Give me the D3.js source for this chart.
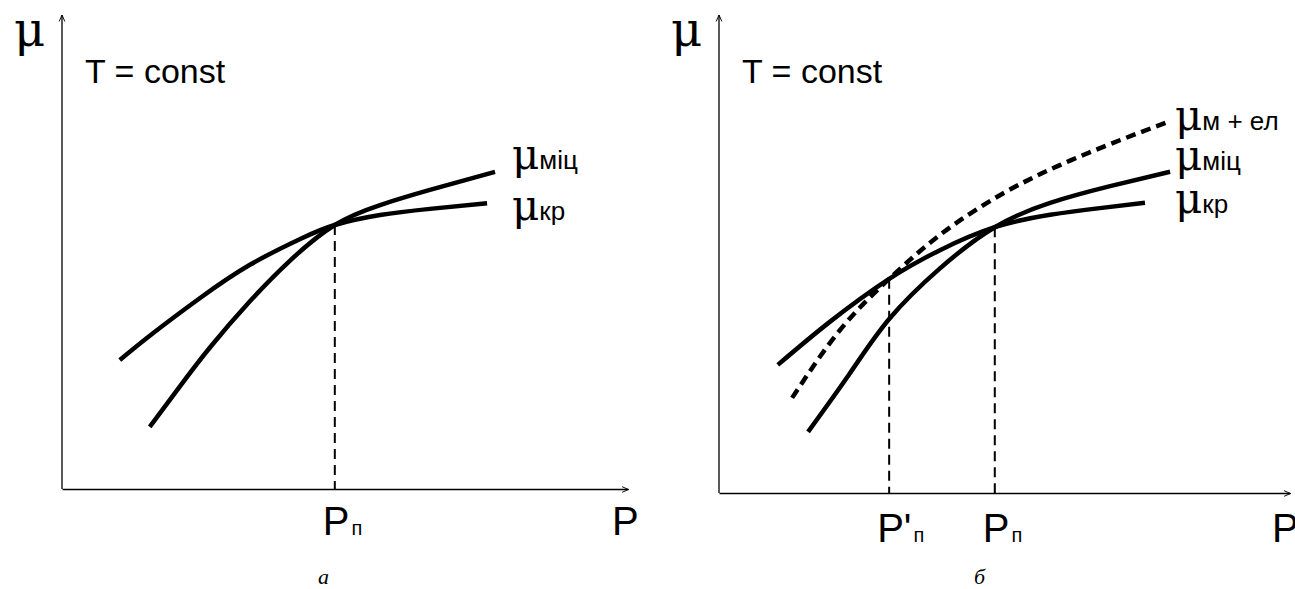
<!DOCTYPE html>
<html><head><meta charset="utf-8">
<script src="https://cdn.jsdelivr.net/npm/d3@7"></script>
<style>body{margin:0;background:#fff}svg{display:block}</style>
</head><body>
<svg id="c" width="1295" height="589"></svg>
<script>
// ---- data (domain units 0..100) ----
const krA_x = [10.2, 15.9, 24.4, 33.2, 42.0, 48.2, 56.2, 65.0, 75.1];
const krA_y = [27.2, 32.7, 40.3, 47.3, 52.7, 55.7, 57.8, 59.1, 60.3];
const micA_x = [15.5, 20.8, 26.1, 33.2, 40.3, 48.2, 56.2, 65.0, 76.5];
const micA_y = [13.1, 21.6, 29.8, 39.6, 48.2, 55.7, 59.9, 63.1, 66.9];
const crossA = [48.2];           // P_п
const crossA_mu = [55.7];

const krB_x = [10.3, 19.4, 29.8, 38.7, 48.3, 58.0, 66.7, 74.6];
const krB_y = [26.8, 35.8, 44.8, 50.8, 55.6, 58.2, 59.6, 60.7];
const micB_x = [15.6, 22.9, 29.8, 38.7, 48.3, 58.0, 68.5, 79.0];
const micB_y = [12.8, 25.0, 36.4, 47.0, 55.6, 60.7, 64.2, 67.2];
const melB_x = [12.8, 21.2, 29.8, 38.7, 49.2, 59.7, 70.2, 78.6];
const melB_y = [19.9, 34.1, 44.8, 54.0, 62.3, 68.6, 73.8, 77.6];
const crossB = [29.8, 48.3];     // P'_п, P_п
const crossB_mu = [44.8, 55.6];

const tickLabelsA = [["P", "п"]];
const tickLabelsB = [["P'", "п"], ["P", "п"]];
const seriesLabelsA = ["міц", "кр"];
const seriesLabelsB = ["м + ел", "міц", "кр"];
const captions = ["а", "б"];

const svg = d3.select("#c");
const defs = svg.append("defs");
defs.append("marker").attr("id","arr").attr("viewBox","0 0 10 10").attr("refX",9).attr("refY",5)
  .attr("markerWidth",8).attr("markerHeight",8).attr("markerUnits","userSpaceOnUse").attr("orient","auto")
  .append("path").attr("d","M1,1.5 L9,5 L1,8.5").attr("fill","none").attr("stroke","#000").attr("stroke-width",1.2);

const sans = "'Liberation Sans', Arial, sans-serif";
const serif = "'Liberation Serif', 'Times New Roman', serif";
const muFont = "'DejaVu Serif', serif";

function panel(opt) {
  const x = d3.scaleLinear().domain([0,100]).range(opt.xr);
  const y = d3.scaleLinear().domain([0,100]).range(opt.yr);
  const g = svg.append("g");
  const xa = g.append("g").attr("transform",`translate(0,${opt.yr[0]})`)
    .call(d3.axisBottom(x).tickValues([]).tickSizeOuter(0));
  xa.select(".domain").attr("stroke","#000").attr("stroke-width",1.3).attr("marker-end","url(#arr)");
  const ya = g.append("g").attr("transform",`translate(${opt.xr[0]},0)`)
    .call(d3.axisLeft(y).tickValues([]).tickSizeOuter(0));
  ya.select(".domain").attr("stroke","#000").attr("stroke-width",1.3)
    .attr("d",`M0,${opt.yr[0]}V${opt.yr[1]}`).attr("marker-end","url(#arr)");

  const line = d3.line().x(d=>x(d[0])).y(d=>y(d[1])).curve(d3.curveNatural);
  opt.cross.forEach((c,i)=>{
    g.append("line").attr("x1",x(c)).attr("x2",x(c)).attr("y1",y(opt.crossMu[i])).attr("y2",y(0))
      .attr("stroke","#000").attr("stroke-width",2).attr("stroke-dasharray","10,6");
  });
  opt.curves.forEach(cv=>{
    const pts = cv.xs.map((v,i)=>[v, cv.ys[i]]);
    g.append("path").attr("d",line(pts)).attr("fill","none").attr("stroke","#000")
      .attr("stroke-width",4.5).attr("stroke-dasharray",cv.dash||null);
  });
  g.append("text").attr("x",opt.muX).attr("y",46).attr("font-family",muFont)
    .attr("font-size",48).text("μ");
  g.append("text").attr("x",x(0)+23).attr("y",83).attr("font-family",sans).attr("font-size",34).text("T = const");
  g.append("text").attr("x",opt.pX).attr("y",opt.tickY).attr("font-family",sans).attr("font-size",40).text("P");
  opt.cross.forEach((c,i)=>{
    const t = g.append("text").attr("x",x(c)-12).attr("y",opt.tickY).attr("font-family",sans).attr("font-size",40);
    t.append("tspan").text(opt.ticks[i][0]);
    t.append("tspan").attr("dx",2).attr("font-size",20).text(opt.ticks[i][1]);
  });
  opt.labels.forEach((l,i)=>{
    const t = g.append("text").attr("x",opt.labX).attr("y",opt.labY[i]).attr("font-family",muFont)
      .attr("font-size",42);
    t.append("tspan").text("μ");
    t.append("tspan").attr("font-family",sans).attr("font-size",26).text(l);
  });
  g.append("text").attr("x",opt.capX).attr("y",opt.capY).attr("font-family",serif).attr("font-style","italic")
    .attr("font-size",22).text(opt.cap);
}

panel({xr:[62,628], yr:[489,15], muX:14, pX:612, tickY:535,
  cross:crossA, crossMu:crossA_mu, ticks:tickLabelsA,
  curves:[{xs:krA_x, ys:krA_y},{xs:micA_x, ys:micA_y}],
  labels:seriesLabelsA, labX:512, labY:[169,220], capX:318, capY:584, cap:captions[0]});
panel({xr:[719,1290], yr:[493,15], muX:671, pX:1272, tickY:542,
  cross:crossB, crossMu:crossB_mu, ticks:tickLabelsB,
  curves:[{xs:krB_x, ys:krB_y},{xs:micB_x, ys:micB_y},{xs:melB_x, ys:melB_y, dash:"10,6"}],
  labels:seriesLabelsB, labX:1175, labY:[130,170,213], capX:974, capY:584, cap:captions[1]});
</script>
</body></html>
